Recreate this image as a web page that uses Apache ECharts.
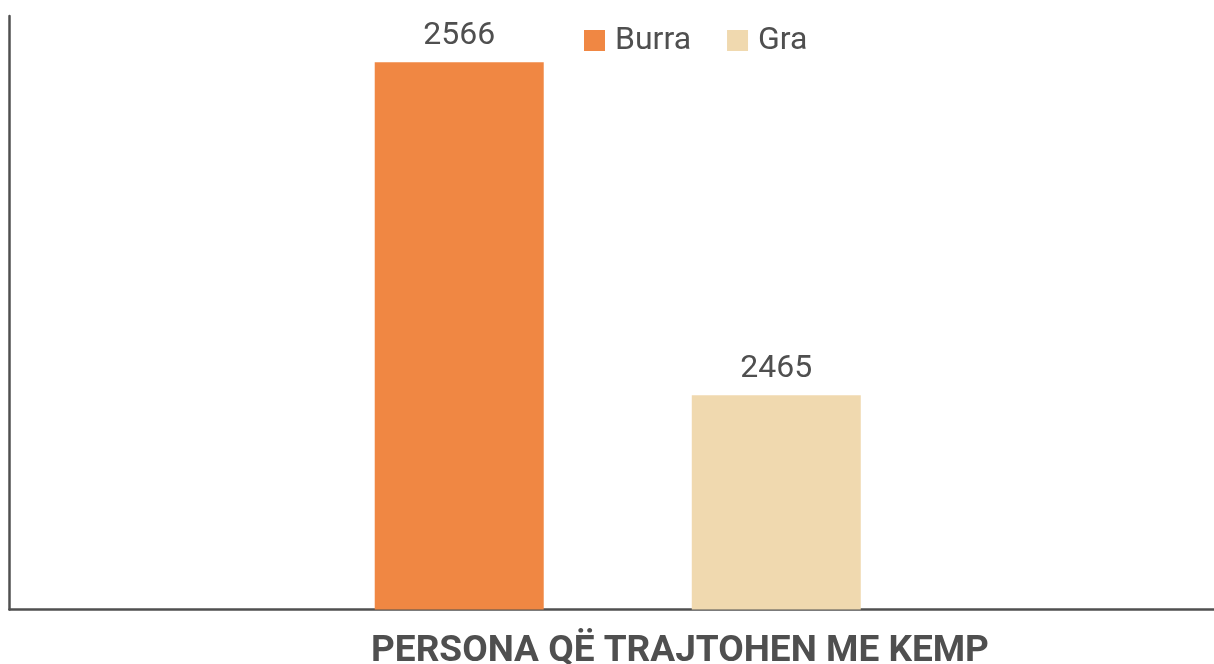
<!DOCTYPE html>
<html>
<head>
<meta charset="utf-8">
<script src="https://cdn.jsdelivr.net/npm/echarts@6/dist/echarts.min.js"></script>
<style>
    html, body { margin: 0; padding: 0; background: #fff; }
    #chartBar { width: 1214px; height: 664px; }
</style>
</head>
<body>
<div id="chartBar"></div>
<script>
    // të dhënat
    var categories = ['PERSONA QË TRAJTOHEN ME KEMP']
    var seriesNames = ['Burra', 'Gra']
    var burra = [2566]
    var gra = [2465]
    var colors = ['#F08743', '#F0D9AF']

    var lineStyle = { color: '#505050', width: 2.5 }

    var chartBar = echarts.init(document.getElementById('chartBar'))
    chartBar.setOption({
        textStyle: { fontFamily: 'Roboto' },
        title: {
            text: categories[0],
            left: 366,
            top: 628,
            textStyle: {
                fontFamily: 'Roboto',
                fontSize: 37,
                fontWeight: 'bold',
                color: '#4f4f4f'
            }
        },
        legend: {
            data: seriesNames,
            left: 579,
            top: 19.5,
            icon: 'rect',
            itemWidth: 21,
            itemHeight: 21,
            itemGap: 36,
            textStyle: {
                fontFamily: 'Roboto',
                fontSize: 32,
                color: '#4f4f4f',
                padding: [0, 0, 0, 5]
            }
        },
        // grid 0 = vijat e boshteve, grid 1 = shtyllat
        grid: [
            { left: 9.5, right: 0, top: 16, bottom: 54.5 },
            { left: 21.5, right: 0, top: 16, bottom: 54.5 }
        ],
        xAxis: [
            {
                type: 'category',
                gridIndex: 0,
                data: categories,
                axisLine: { lineStyle: lineStyle },
                axisTick: { show: false },
                axisLabel: { show: false }
            },
            {
                type: 'category',
                gridIndex: 1,
                data: categories,
                axisLine: { show: false },
                axisTick: { show: false },
                axisLabel: { show: false }
            }
        ],
        yAxis: [
            {
                type: 'value',
                gridIndex: 0,
                min: 2400,
                max: 2580,
                axisLine: { show: true, lineStyle: lineStyle },
                axisTick: { show: false },
                axisLabel: { show: false },
                splitLine: { show: false }
            },
            {
                type: 'value',
                gridIndex: 1,
                min: 2400,
                max: 2580,
                axisLine: { show: false },
                axisTick: { show: false },
                axisLabel: { show: false },
                splitLine: { show: false }
            }
        ],
        series: [
            {
                name: seriesNames[0],
                type: 'bar',
                xAxisIndex: 1,
                yAxisIndex: 1,
                data: burra,
                barWidth: 169,
                barGap: '87.6%',
                itemStyle: { color: colors[0] },
                label: {
                    show: true,
                    position: 'top',
                    distance: 10,
                    fontFamily: 'Roboto',
                    fontSize: 32,
                    color: '#4f4f4f'
                }
            },
            {
                name: seriesNames[1],
                type: 'bar',
                xAxisIndex: 1,
                yAxisIndex: 1,
                data: gra,
                barWidth: 169,
                itemStyle: { color: colors[1] },
                label: {
                    show: true,
                    position: 'top',
                    distance: 10,
                    fontFamily: 'Roboto',
                    fontSize: 32,
                    color: '#4f4f4f'
                }
            }
        ]
    })
</script>
</body>
</html>
